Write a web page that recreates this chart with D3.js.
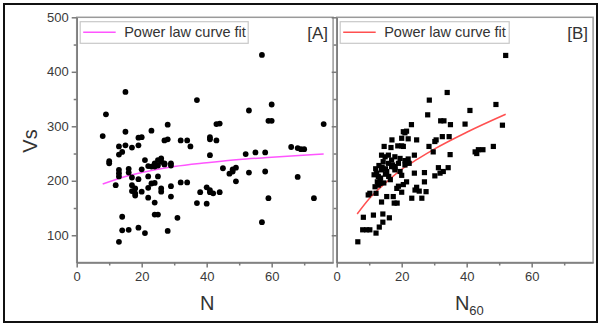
<!DOCTYPE html>
<html><head><meta charset="utf-8">
<script src="https://cdn.jsdelivr.net/npm/d3@7"></script>
<style>html,body{margin:0;padding:0;background:#fff;}svg{display:block;font-family:"Liberation Sans",Arial,sans-serif;}</style>
</head><body>
<svg id="c" width="601" height="327"></svg>
<script>
// Panel A: SPT N vs Vs (circles)
const nA = [8,9,15,15,37,57,53,60,59,60,76,43,44,28,23,19,20,27,28,32,34,35,41,41,43,13,15,17,19,13,14,41,52,55,58,66,68,69,70,10,10,
  12,13,13,13,16,16,17,17,18,17,18,18,19,19,20,21,20,22,22,22,22,23,24,24,25,26,26,27,25,24,25,24,25,26,26,27,29,29,29,29,28,31,32,34,37,38,40,41,41,42,40,44,45,47,48,48,49,49,53,58,57,59,68,73,14,14,16,13,21,23,24,27];
const vsA = [282,322,363,290,348,431,329,340,310,310,304,304,305,303,292,279,280,274,276,274,274,263,280,276,274,263,265,261,265,248,253,247,249,252,252,262,260,258,258,236,232,
  192,220,214,208,222,215,206,192,186,181,177,173,203,114,180,238,221,227,208,187,169,195,160,232,238,241,235,230,228,138,138,196,208,186,180,231,232,228,190,171,108,132,197,197,159,179,188,183,179,177,158,179,223,213,217,221,224,199,215,217,124,168,207,168,134,109,110,88,104,226,226,232];

// Panel B: N60 vs Vs (squares)
const nB = [52,34,28.5,28,41,49,51,32,33,35,39.5,23,21.5,21,20.5,20,22,24.6,17,18.8,20,20.5,14.6,16.7,28.4,30.2,30.6,32.5,34.6,29.7,34.9,42.6,43.6,43.1,45,48.2,23.9,31.3,34.3,30.2,31.8,32.8,23.9,27,21.5,27,24.6,24.1,25.4,27.5,23.1,26.2,20,18.5,17.4,18.6,17.7,15.4,13.8,12.1,10.2,9.7,11.8,12.8,13.3,8.2,11.3,14.2,16.2,14.2,13.1,12.1,8,9.2,10.2,6.5,
  13.8,14.9,15.9,16.9,17.9,19.5,19,17.2,15.9,14.3,12.3,12.8,13.3,13.8,15.4,16.9,17.9,19.5,21,22.3,12,13,14,15,16,18,20,21,12.5,14.5,16.5,19,22,15,17.5,20.5,13.5,11.5];
const vsB = [430,362,348,321,329,340,302,310,310,303,304,303,291,288,290,278,277,275,275,264,264,263,263,261,263,272,275,281,281,253,248,253,257,250,257,263,247,224,224,209,214,217,214,215,198,198,188,183,181,180,168,168,179,186,171,159,159,171,161,177,177,174,189,192,195,133,137,139,132,124,115,104,110,110,110,88,
  247,244,247,238,244,241,232,229,232,235,214,208,201,220,217,226,220,217,229,232,222,228,225,212,208,224,210,237,198,196,202,190,240,222,226,193,205,211];

// Power-law fit curves
const fitAx = [8,15,20,30,40,50,60,76];
const fitAy = [194,208,215,226,233,239,243,249];
const fitBx = [6.3,10,15,20,25,30,40,52];
const fitBy = [139,167,196,221,240,258,289,322];

const xTicks = [0,20,40,60];
const xMinor = [10,30,50,70];
const yTicks = [100,200,300,400,500];
const yMinor = [150,250,350,450];
const legendText = "Power law curve fit";

const svg = d3.select("#c");
svg.append("rect").attr("x",4).attr("y",4).attr("width",593).attr("height",318)
  .attr("fill","#fff").attr("stroke","#111").attr("stroke-width",2);

const y = d3.scaleLinear().domain([50,500]).range([262.5,17.3]);
const xA = d3.scaleLinear().domain([0,78.9]).range([76.7,333.1]);
const xB = d3.scaleLinear().domain([0,78.9]).range([336.7,593.1]);
const axisCol = "#7a7a7a", textCol = "#3a3a3a";

function panel(x, showYLabels, xs, ys, marker, fx, fy, fitCol, label, xLabelSub) {
  const [x0,x1] = x.range(), [y0,y1] = y.range();
  // frame
  svg.append("rect").attr("x",x0).attr("y",y1).attr("width",x1-x0).attr("height",y0-y1)
    .attr("fill","none").attr("stroke","#9a9a9a").attr("stroke-width",1.5);
  // x axis
  const gx = svg.append("g").attr("transform",`translate(0,${y0})`);
  gx.call(d3.axisBottom(x).tickValues(xTicks).tickSize(5).tickSizeOuter(0).tickPadding(4).tickFormat(d3.format("d")));
  const gxm = svg.append("g").attr("transform",`translate(0,${y0})`);
  gxm.call(d3.axisBottom(x).tickValues(xMinor).tickSize(3).tickSizeOuter(0).tickFormat(""));
  gxm.select(".domain").remove();
  // y axis
  const gy = svg.append("g").attr("transform",`translate(${x0},0)`);
  gy.call(d3.axisLeft(y).tickValues(yTicks).tickSize(5).tickSizeOuter(0).tickPadding(3)
      .tickFormat(showYLabels ? d3.format("d") : ""));
  const gym = svg.append("g").attr("transform",`translate(${x0},0)`);
  gym.call(d3.axisLeft(y).tickValues(yMinor).tickSize(3).tickSizeOuter(0).tickFormat(""));
  gym.select(".domain").remove();
  [gx,gxm,gy,gym].forEach(g=>{
    g.selectAll("path,line").attr("stroke",axisCol).attr("stroke-width",1.5);
    g.selectAll("text").attr("fill",textCol).style("font-size","13px").style("font-family","'Liberation Sans',Arial,sans-serif");
  });
  // fit line
  const line = d3.line().x(d=>x(d[0])).y(d=>y(d[1])).curve(d3.curveMonotoneX);
  svg.append("path").datum(fx.map((v,i)=>[v,fy[i]])).attr("d",line)
    .attr("fill","none").attr("stroke",fitCol).attr("stroke-width",1.5);
  // points
  const pts = xs.map((v,i)=>[v,ys[i]]);
  if (marker==="circle") {
    svg.append("g").selectAll("circle").data(pts).join("circle")
      .attr("cx",d=>x(d[0])).attr("cy",d=>y(d[1])).attr("r",2.9).attr("fill","#000");
  } else {
    svg.append("g").selectAll("rect").data(pts).join("rect")
      .attr("x",d=>x(d[0])-2.6).attr("y",d=>y(d[1])-2.6).attr("width",5.2).attr("height",5.2).attr("fill","#000");
  }
  // legend
  svg.append("rect").attr("x",x0+3.5).attr("y",21.7).attr("width",x===xA?168:169).attr("height",21.6)
    .attr("fill","#fff").attr("stroke","#c8c8c8").attr("stroke-width",1.2);
  svg.append("line").attr("x1",x0+6.5).attr("x2",x0+39).attr("y1",32.3).attr("y2",32.3)
    .attr("stroke",fitCol).attr("stroke-width",1.5);
  svg.append("text").attr("x",x0+47.5).attr("y",37.3).attr("fill","#333")
    .style("font-size","14.5px").text(legendText);
  svg.append("text").attr("x",x1-5).attr("y",39).attr("text-anchor","end").attr("fill","#333")
    .style("font-size","17px").text(label);
  // x label
  const xl = svg.append("text").attr("x",(x0+x1)/2 - (xLabelSub?10:5)).attr("y",310).attr("fill","#333")
    .style("font-size","20px").text("N");
  if (xLabelSub) xl.append("tspan").attr("dy",5).style("font-size","13px").text(xLabelSub);
}

panel(xA, true, nA, vsA, "circle", fitAx, fitAy, "#ff55ff", "[A]", null);
panel(xB, false, nB, vsB, "square", fitBx, fitBy, "#ff5050", "[B]", "60");

svg.append("text").attr("transform","translate(37,141) rotate(-90)").attr("text-anchor","middle")
  .attr("fill","#333").style("font-size","20px").text("Vs");
</script>
</body></html>
